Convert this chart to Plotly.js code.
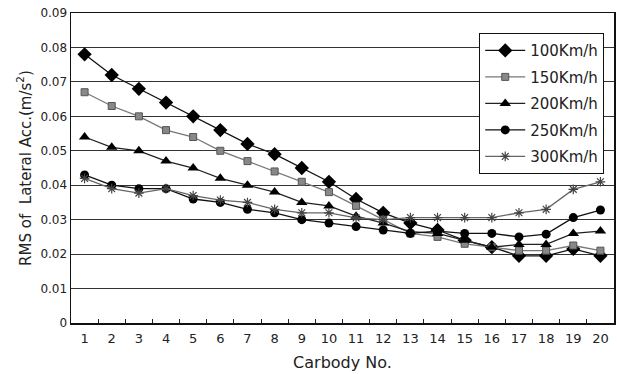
<!DOCTYPE html>
<html><head><meta charset="utf-8">
<script src="https://cdn.plot.ly/plotly-3.0.1.min.js"></script>
<style>html,body{margin:0;padding:0;background:#fff}</style>
</head><body><div id="chart" style="width:617px;height:374px"></div>
<script>
const categories = ["1","2","3","4","5","6","7","8","9","10","11","12","13","14","15","16","17","18","19","20"];
const seriesNames = ["100Km/h","150Km/h","200Km/h","250Km/h","300Km/h"];
const v100 = [0.078,0.072,0.068,0.064,0.060,0.056,0.052,0.049,0.045,0.041,0.036,0.032,0.029,0.027,0.024,0.022,0.0195,0.0195,0.0215,0.0195];
const v150 = [0.067,0.063,0.060,0.056,0.054,0.050,0.047,0.044,0.041,0.038,0.034,0.030,0.026,0.025,0.023,0.022,0.021,0.021,0.0225,0.021];
const v200 = [0.054,0.051,0.050,0.047,0.045,0.042,0.040,0.038,0.035,0.034,0.031,0.029,0.0265,0.026,0.024,0.022,0.0228,0.0228,0.026,0.0267];
const v250 = [0.043,0.040,0.039,0.039,0.036,0.035,0.033,0.032,0.030,0.029,0.028,0.027,0.026,0.0267,0.026,0.026,0.025,0.0258,0.0306,0.0328];
const v300 = [0.042,0.039,0.0377,0.039,0.037,0.0357,0.035,0.033,0.032,0.032,0.0305,0.030,0.0306,0.0306,0.0306,0.0306,0.032,0.033,0.0388,0.041];
const yTicks = [0,0.01,0.02,0.03,0.04,0.05,0.06,0.07,0.08,0.09];
const yTickText = ["0","0.01","0.02","0.03","0.04","0.05","0.06","0.07","0.08","0.09"];

const values = [v100,v150,v200,v250,v300];
const styles = [
  {line:'#111', marker:{symbol:'diamond', size:11, color:'#000'}},
  {line:'#777', marker:{symbol:'square', size:7, color:'#888', line:{color:'#555', width:1}}},
  {line:'#222', marker:{symbol:'triangle-up', size:10, color:'#000'}},
  {line:'#111', marker:{symbol:'circle', size:9, color:'#000'}},
  {line:'#666', marker:{symbol:'asterisk-open', size:8, color:'#444', line:{color:'#444', width:1.2}}}
];
const traces = values.map((v,i)=>({
  type:'scatter', mode:'lines+markers', name:seriesNames[i], legendgroup:'g'+i,
  x:categories, y:v,
  line:{color:styles[i].line, width:1.3},
  marker:styles[i].marker
}));
const layout = {
  width:617, height:374,
  margin:{l:71, r:3, t:13, b:51},
  paper_bgcolor:'#fff', plot_bgcolor:'#fff',
  font:{family:'DejaVu Sans, Liberation Sans, sans-serif', color:'#222', size:12},
  showlegend:true,
  legend:{x:0.982, y:0.935, xanchor:'right', yanchor:'top', bgcolor:'#fff', bordercolor:'#111', borderwidth:1,
    font:{size:15, color:'#222'}, tracegroupgap:4, itemwidth:40},
  xaxis:{type:'category', range:[-0.5, categories.length-0.5], automargin:true, tickson:'boundaries', ticks:'inside', ticklen:4, tickcolor:'#222',
    showline:true, linecolor:'#111', linewidth:1.5, mirror:true, showgrid:false, ticklabelstandoff:3,
    tickfont:{size:13}, title:{text:'Carbody No.', font:{size:16}, standoff:11}},
  yaxis:{range:[0,0.09], automargin:false, tickvals:yTicks, ticktext:yTickText, showgrid:true, gridcolor:'#333', gridwidth:1,
    showline:true, linecolor:'#111', linewidth:1.5, mirror:true, zeroline:false, ticks:'',
    tickfont:{size:12}, title:{text:'RMS of  Lateral Acc.(m/s<sup>2</sup>)', font:{size:15}}}
};
Plotly.newPlot('chart', traces, layout, {displayModeBar:false, staticPlot:true});
</script></body></html>
